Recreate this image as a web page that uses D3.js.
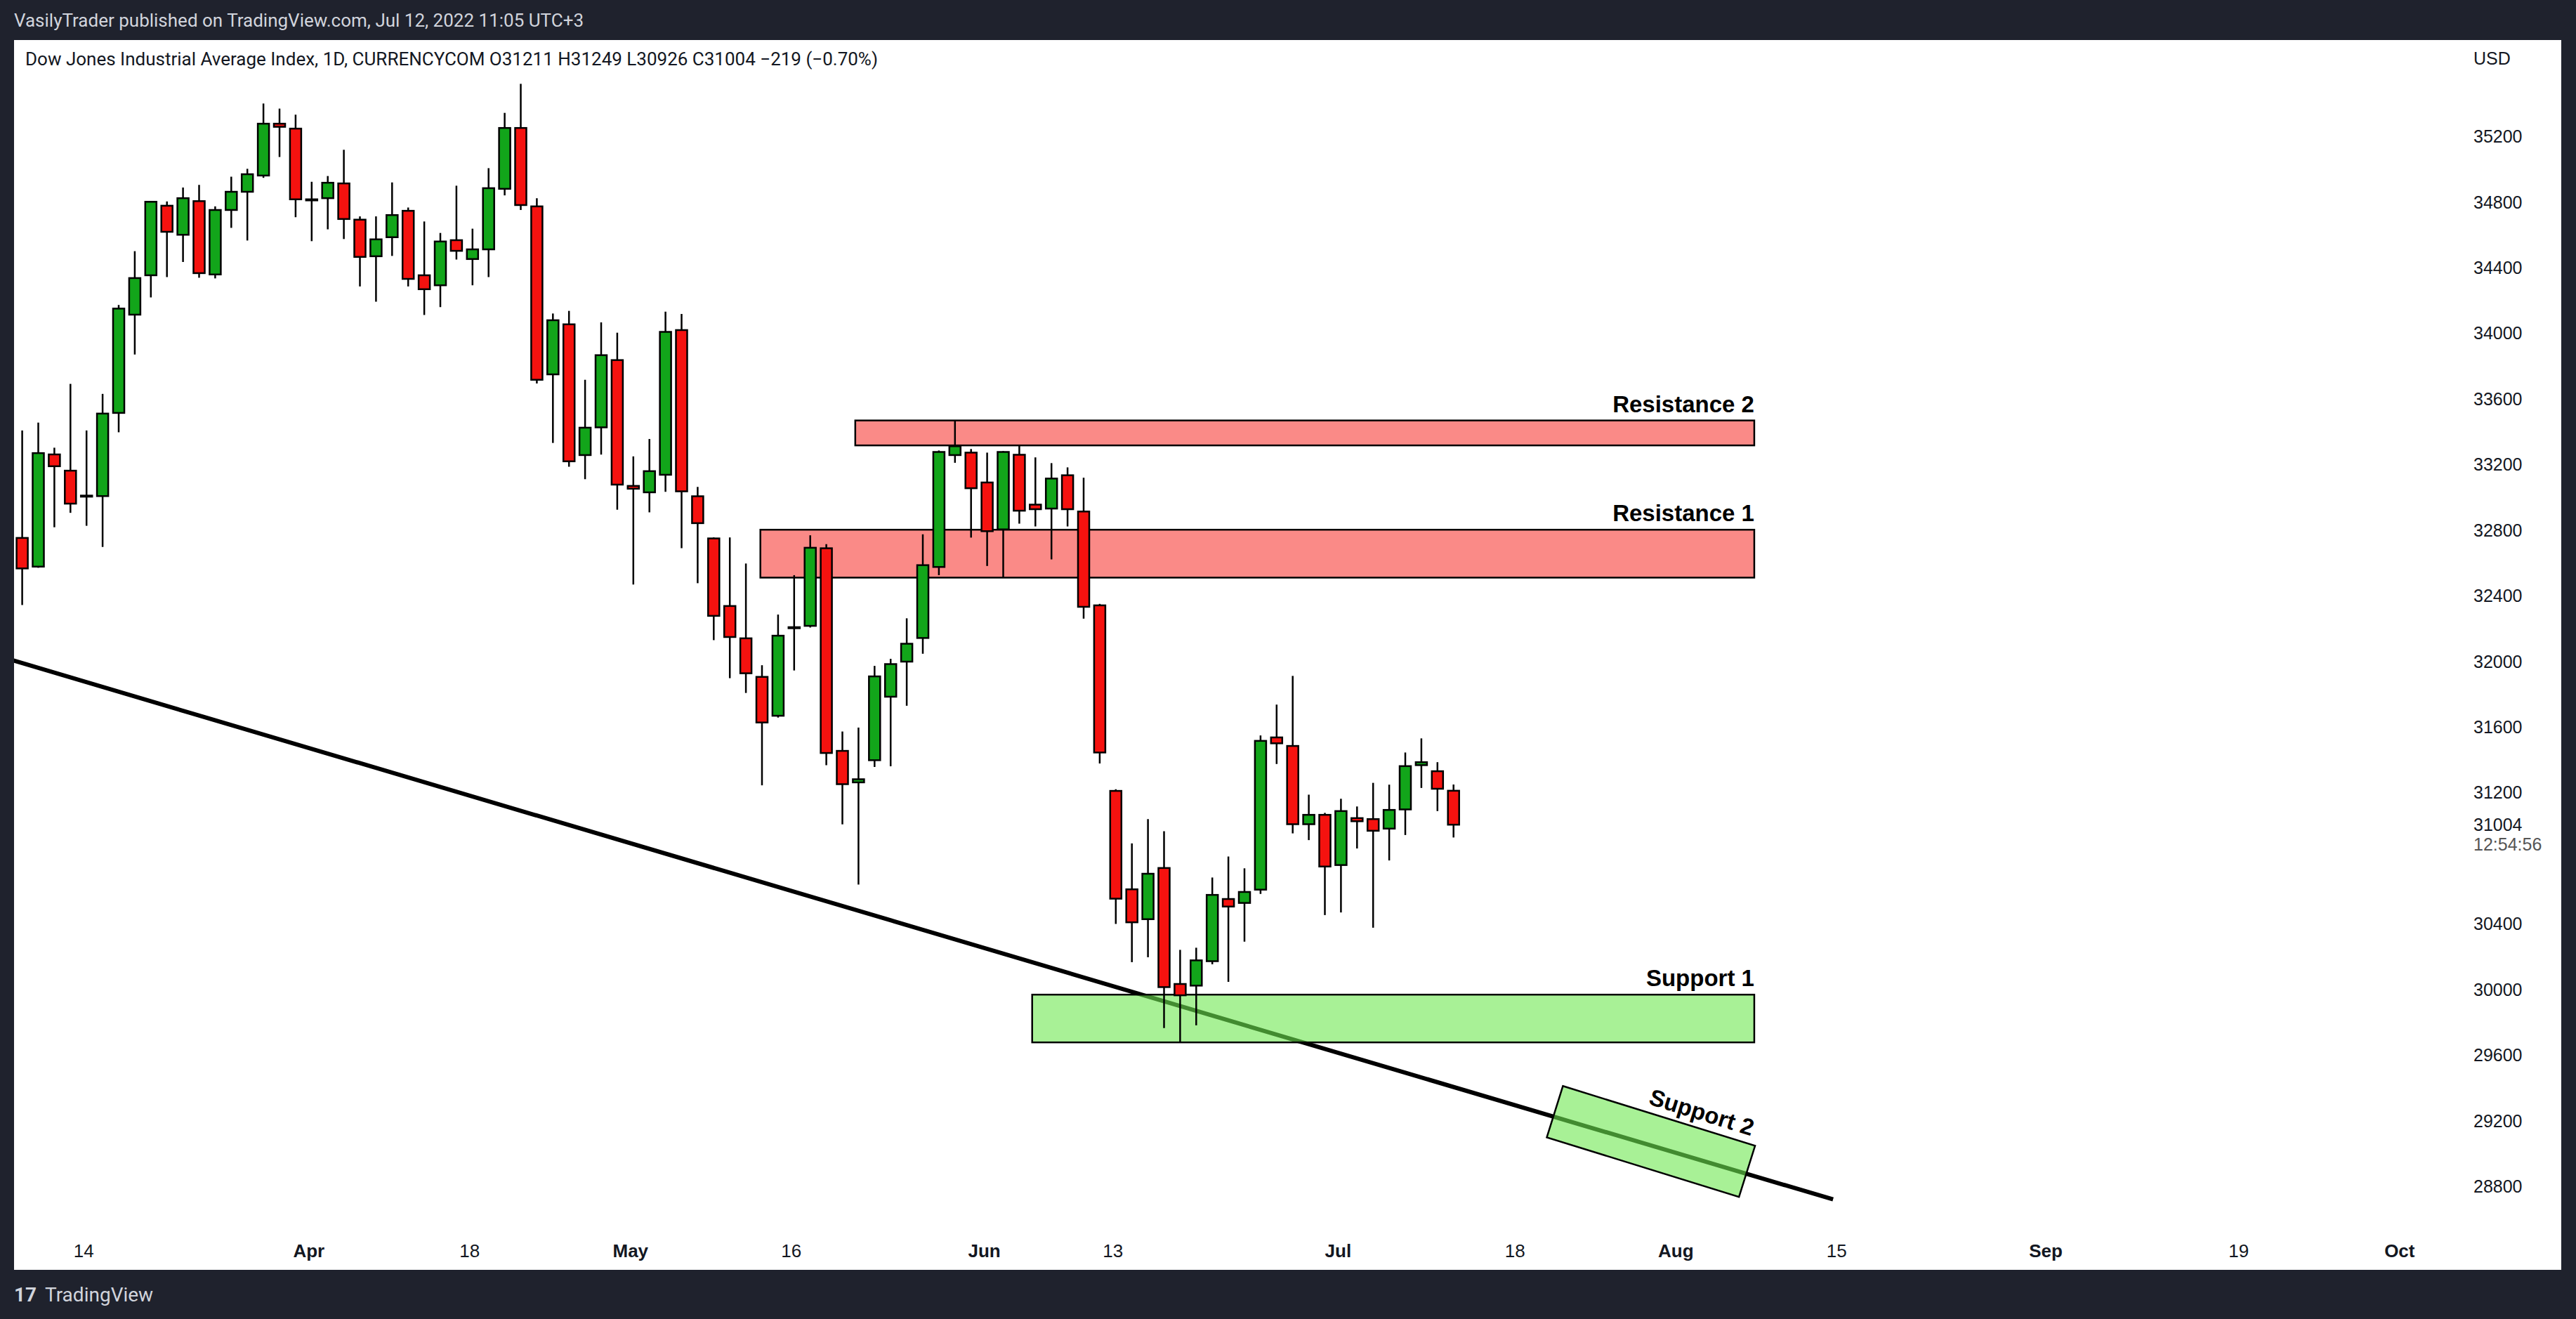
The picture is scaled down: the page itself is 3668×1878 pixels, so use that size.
<!DOCTYPE html>
<html><head><meta charset="utf-8">
<script src="https://cdn.jsdelivr.net/npm/d3@7"></script>
<style>body{margin:0;background:#1f222d;overflow:hidden}</style>
</head><body>
<svg id="c" width="3668" height="1878"></svg>
<script>
const opens =[32752,32577,33261,33162,33010,33007,33514,34113,34353,34777,34600,34805,34358,34751,34862,34961,35277,35247,34816,34823,34913,34692,34469,34585,34746,34353,34292,34567,34452,34511,34880,35251,34773,33749,34054,33257,33426,33836,33069,33030,33137,34019,33006,32749,32337,32140,31905,31668,32208,32216,32689,31454,31262,31397,31784,31998,32142,32575,33257,33272,33090,32804,33259,32955,32931,33134,32913,32341,31210,30610,30428,30740,30033,30023,30172,30551,30527,30608,31536,31484,31007,31064,30758,31044,31038,30980,31097,31367,31330,31211];
const highs =[33407,33455,33302,33691,33407,33630,34172,34500,34805,34803,34888,34904,34773,34954,35002,35400,35369,35332,34923,34958,35118,34712,34712,34919,34766,34681,34611,34899,34637,35006,35343,35520,34823,34120,34136,33716,34066,34003,33249,33355,34131,34117,33063,32755,32755,32596,31976,32285,32525,32768,32714,31572,31596,31972,32015,32262,32774,33285,33468,33294,33272,33281,33320,33243,33208,33182,33119,32350,31220,30890,31038,30964,30241,30254,30682,30810,30738,31548,31736,31911,31187,31076,31162,31115,31259,31248,31444,31530,31385,31249];
const lows  =[32343,32570,32817,32905,32826,32697,33396,33870,34218,34342,34434,34338,34334,34642,34565,34947,35074,34707,34561,34633,34574,34285,34192,34471,34285,34111,34159,34449,34292,34342,34840,34751,33693,33331,33186,33110,33260,32924,32468,32908,33033,32689,32476,32129,31897,31807,31244,31657,31944,32206,31367,31006,30639,31356,31360,31729,32046,32525,33210,32754,32581,32511,32839,32822,32621,32822,32260,31377,30399,30166,30196,29764,29678,29781,30153,30046,30291,30582,31374,30951,30910,30453,30469,30859,30376,30786,30941,31228,31087,30926];
const closes=[32566,33269,33189,32961,33005,33510,34150,34336,34801,34618,34823,34366,34751,34862,34969,35277,35258,34816,34814,34917,34696,34465,34572,34720,34331,34268,34559,34502,34511,34884,35251,34781,33716,34079,33219,33424,33866,33077,33052,33159,34008,33036,32842,32277,32148,31927,31627,32156,32204,32692,31441,31251,31281,31908,31983,32107,32586,33276,33311,33055,32793,33276,32918,32927,33114,32927,32332,31444,30553,30409,30705,30014,29964,30177,30576,30505,30594,31515,31500,31007,31064,30749,31087,31025,30967,31094,31361,31385,31223,31004];
const priceTicks=[28800,29200,29600,30000,30400,31200,31600,32000,32400,32800,33200,33600,34000,34400,34800,35200];
const timeTickIdx=[4,18,28,38,48,60,68,82,93,103,113,126,138,148];
const timeTickLabels=["14","Apr","18","May","16","Jun","13","Jul","18","Aug","15","Sep","19","Oct"];
const timeTickBold=[false,true,false,true,false,true,false,true,false,true,false,true,false,true];
const zoneStart=[51.8,45.9,62.8];
const zoneEnd=[107.7,107.7,107.7];
const zoneLow=[33316,32510,29677];
const zoneHigh=[33468,32802,29968];
const zoneLabels=["Resistance 2","Resistance 1","Support 1"];
const zoneKind=["r","r","s"];
const trendIdx=[-0.56,112.6];
const trendPrice=[32005,28720];
const sup2Idx=[95.8,107.75,106.75,94.8];
const sup2Price=[29411,29047,28735,29098];

const svg=d3.select("#c");
const W=3668,H=1878;
const x=d3.scaleLinear().domain([0,148]).range([31.6,31.6+22.9*148]);
const y=d3.scaleLinear().domain([28800,35200]).range([1689,194.1]);
const font="'Liberation Sans',Arial,sans-serif";
svg.append("rect").attr("width",W).attr("height",H).attr("fill","#1f222d");
svg.append("rect").attr("x",20).attr("y",57).attr("width",3627).attr("height",1751).attr("fill","#fff");
svg.append("defs").append("clipPath").attr("id","pc").append("rect").attr("x",20).attr("y",57).attr("width",3460).attr("height",1690);
const g=svg.append("g").attr("clip-path","url(#pc)");
g.append("line").attr("x1",x(trendIdx[0])).attr("y1",y(trendPrice[0])).attr("x2",x(trendIdx[1])).attr("y2",y(trendPrice[1])).attr("stroke","#000").attr("stroke-width",6);
zoneStart.forEach((s,i)=>{
  g.append("rect").attr("x",x(s)).attr("y",y(zoneHigh[i])).attr("width",x(zoneEnd[i])-x(s)).attr("height",y(zoneLow[i])-y(zoneHigh[i]))
   .attr("fill",zoneKind[i]=="r"?"rgba(246,60,55,0.6)":"rgba(110,232,80,0.6)").attr("stroke","#000").attr("stroke-width",2.5);
  svg.append("text").attr("x",x(zoneEnd[i])).attr("y",y(zoneHigh[i])-12).attr("text-anchor","end")
   .attr("font-family",font).attr("font-weight","bold").attr("font-size",33).text(zoneLabels[i]);
});
const pts=sup2Idx.map((d,i)=>[x(d),y(sup2Price[i])]);
g.append("polygon").attr("points",pts.map(p=>p.join(",")).join(" ")).attr("fill","rgba(110,232,80,0.6)").attr("stroke","#000").attr("stroke-width",2.5);
const ang=Math.atan2(pts[1][1]-pts[0][1],pts[1][0]-pts[0][0])*180/Math.PI;
const lx=pts[0][0]+(pts[1][0]-pts[0][0])*0.71, ly=pts[0][1]+(pts[1][1]-pts[0][1])*0.71-12;
svg.append("text").attr("transform",`translate(${lx},${ly}) rotate(${ang})`).attr("text-anchor","middle")
  .attr("font-family",font).attr("font-weight","bold").attr("font-size",33).text("Support 2");
const bw=16;
const cg=g.append("g");
opens.forEach((o,i)=>{
  const c=closes[i],cx=x(i);
  cg.append("line").attr("x1",cx).attr("x2",cx).attr("y1",y(highs[i])).attr("y2",y(lows[i])).attr("stroke","#000").attr("stroke-width",2.5);
  const top=y(Math.max(o,c)),bot=y(Math.min(o,c));
  cg.append("rect").attr("x",cx-bw/2).attr("y",top).attr("width",bw).attr("height",Math.max(bot-top,1.5))
    .attr("fill",c>=o?"#12a51a":"#f5120f").attr("stroke","#000").attr("stroke-width",2.5);
});
priceTicks.forEach(p=>{
  svg.append("text").attr("x",3522).attr("y",y(p)+9).attr("font-family",font).attr("font-size",25).attr("fill","#131722").text(p);
});
svg.append("text").attr("x",3522).attr("y",92).attr("font-family",font).attr("font-size",25).attr("fill","#131722").text("USD");
const lp=closes[closes.length-1];
svg.append("text").attr("x",3522).attr("y",y(lp)+9).attr("font-family",font).attr("font-size",25).attr("fill","#131722").text(lp);
svg.append("text").attr("x",3522).attr("y",y(lp)+37).attr("font-family",font).attr("font-size",25).attr("fill","#555").text("12:54:56");
timeTickIdx.forEach((t,i)=>{
  svg.append("text").attr("x",x(t)-4).attr("y",1790).attr("text-anchor","middle").attr("font-family",font)
   .attr("font-size",26).attr("font-weight",timeTickBold[i]?"bold":"normal").attr("fill","#131722").text(timeTickLabels[i]);
});
svg.append("text").attr("x",20).attr("y",38).attr("font-family","Roboto,sans-serif").attr("font-size",26).attr("fill","#d1d4dc").text("VasilyTrader published on TradingView.com, Jul 12, 2022 11:05 UTC+3");
svg.append("text").attr("x",36).attr("y",93).attr("font-family","Roboto,sans-serif").attr("font-size",26).attr("fill","#131722").text("Dow Jones Industrial Average Index, 1D, CURRENCYCOM  O31211  H31249  L30926  C31004  \u2212219 (\u22120.70%)");
svg.append("text").attr("x",20).attr("y",1853).attr("font-family","Roboto,sans-serif").attr("font-size",28).attr("font-weight","bold").attr("fill","#d1d4dc").text("17");
svg.append("text").attr("x",64).attr("y",1853).attr("font-family","Roboto,sans-serif").attr("font-size",28).attr("fill","#d1d4dc").text("TradingView");
</script></body></html>
